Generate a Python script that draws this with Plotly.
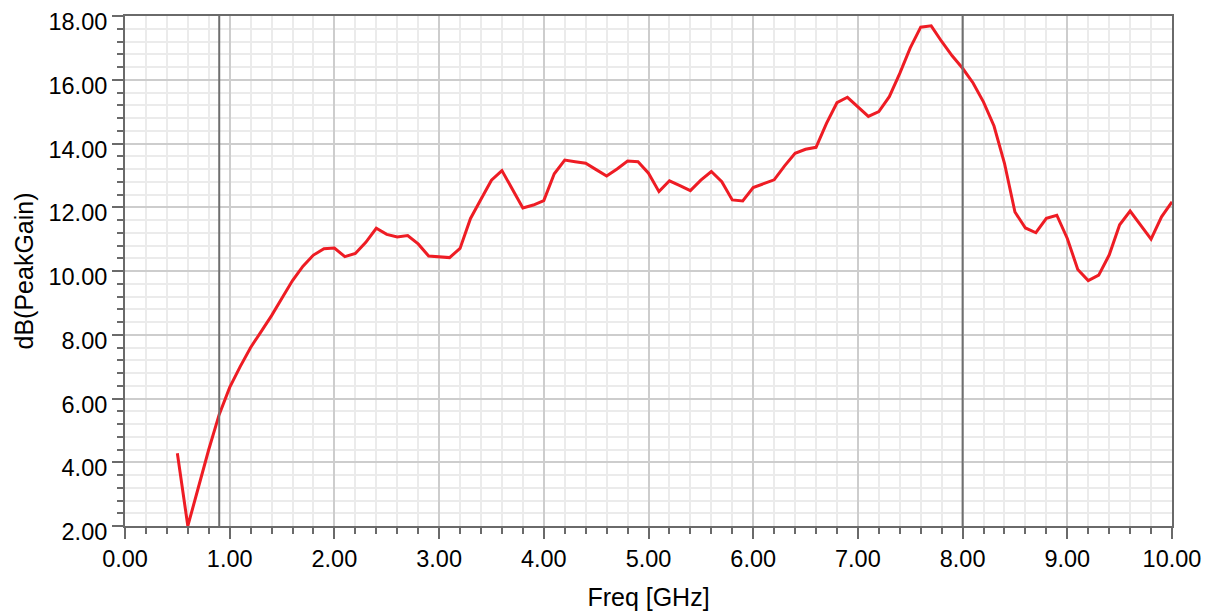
import plotly.graph_objects as go

freq = [0.5, 0.6, 0.7, 0.8, 0.9, 1.0, 1.1, 1.2, 1.3, 1.4, 1.5, 1.6, 1.7, 1.8, 1.9,
        2.0, 2.1, 2.2, 2.3, 2.4, 2.5, 2.6, 2.7, 2.8, 2.9, 3.0, 3.1, 3.2, 3.3, 3.4,
        3.5, 3.6, 3.7, 3.8, 3.9, 4.0, 4.1, 4.2, 4.3, 4.4, 4.5, 4.6, 4.7, 4.8, 4.9,
        5.0, 5.1, 5.2, 5.3, 5.4, 5.5, 5.6, 5.7, 5.8, 5.9, 6.0, 6.1, 6.2, 6.3, 6.4,
        6.5, 6.6, 6.7, 6.8, 6.9, 7.0, 7.1, 7.2, 7.3, 7.4, 7.5, 7.6, 7.7, 7.8, 7.9,
        8.0, 8.1, 8.2, 8.3, 8.4, 8.5, 8.6, 8.7, 8.8, 8.9, 9.0, 9.1, 9.2, 9.3, 9.4,
        9.5, 9.6, 9.7, 9.8, 9.9, 10.0]

peak_gain_db = [4.28, 2.0, 3.2, 4.4, 5.5, 6.35, 7.0, 7.6, 8.1, 8.6, 9.15, 9.7, 10.15, 10.5, 10.7,
                10.72, 10.45, 10.55, 10.9, 11.34, 11.15, 11.07, 11.11, 10.85, 10.47, 10.44, 10.42, 10.71, 11.65, 12.25,
                12.85, 13.15, 12.55, 11.98, 12.07, 12.21, 13.05, 13.48, 13.43, 13.38, 13.18, 12.98, 13.2, 13.45, 13.43,
                13.07, 12.49, 12.83, 12.68, 12.52, 12.85, 13.12, 12.80, 12.23, 12.20, 12.62, 12.74, 12.86, 13.3, 13.69,
                13.82, 13.88, 14.63, 15.28, 15.45, 15.16, 14.85, 15.0, 15.47, 16.2, 17.0, 17.65, 17.69, 17.2, 16.75,
                16.36, 15.9, 15.3, 14.55, 13.38, 11.85, 11.35, 11.2, 11.65, 11.75, 11.02, 10.05, 9.7, 9.87, 10.5,
                11.45, 11.88, 11.45, 11.0, 11.7, 12.17]

marker_freqs = [0.9, 8.0]

x_range = [0.0, 10.0]
y_range = [2.0, 18.0]

font_family = "Liberation Sans, Arial, sans-serif"

fig = go.Figure()
fig.add_trace(go.Scatter(
    x=freq, y=peak_gain_db, mode="lines",
    line=dict(color="#ee1c24", width=3),
    showlegend=False,
))

for mf in marker_freqs:
    fig.add_shape(type="line", xref="x", yref="paper", x0=mf, x1=mf, y0=0, y1=1,
                  line=dict(color="#6f6f6f", width=2), layer="above")

axis_common = dict(
    showline=True, linecolor="#6a6a6a", linewidth=2, mirror=True,
    showgrid=True, gridcolor="#cdcdcd", gridwidth=1.5,
    ticks="outside", ticklen=11, tickcolor="#6a6a6a", tickwidth=1.5,
    tickformat=".2f", zeroline=False, automargin=False,
    ticklabeloverflow="allow",
    tickfont=dict(family=font_family, size=23.5, color="#000000"),
    title_font=dict(family=font_family, size=25, color="#000000"),
)

fig.update_layout(
    width=1217, height=612,
    margin=dict(l=117, r=53, t=8, b=94),
    paper_bgcolor="white", plot_bgcolor="white",
    xaxis=dict(range=x_range, dtick=1.0, tick0=0,
               title=dict(text="Freq [GHz]", standoff=17),
               minor=dict(dtick=0.2, showgrid=True, gridcolor="#ebebeb", gridwidth=1.5,
                          ticks="outside", ticklen=6, tickcolor="#6a6a6a", tickwidth=1.5),
               **axis_common),
    yaxis=dict(range=y_range, dtick=2.0, tick0=0, ticklabelshift=6,
               title=dict(text="dB(PeakGain)", standoff=8),
               minor=dict(dtick=0.4, showgrid=True, gridcolor="#ebebeb", gridwidth=1.5,
                          ticks="outside", ticklen=6, tickcolor="#6a6a6a", tickwidth=1.5),
               **axis_common),
)

fig.write_html("out.html")
